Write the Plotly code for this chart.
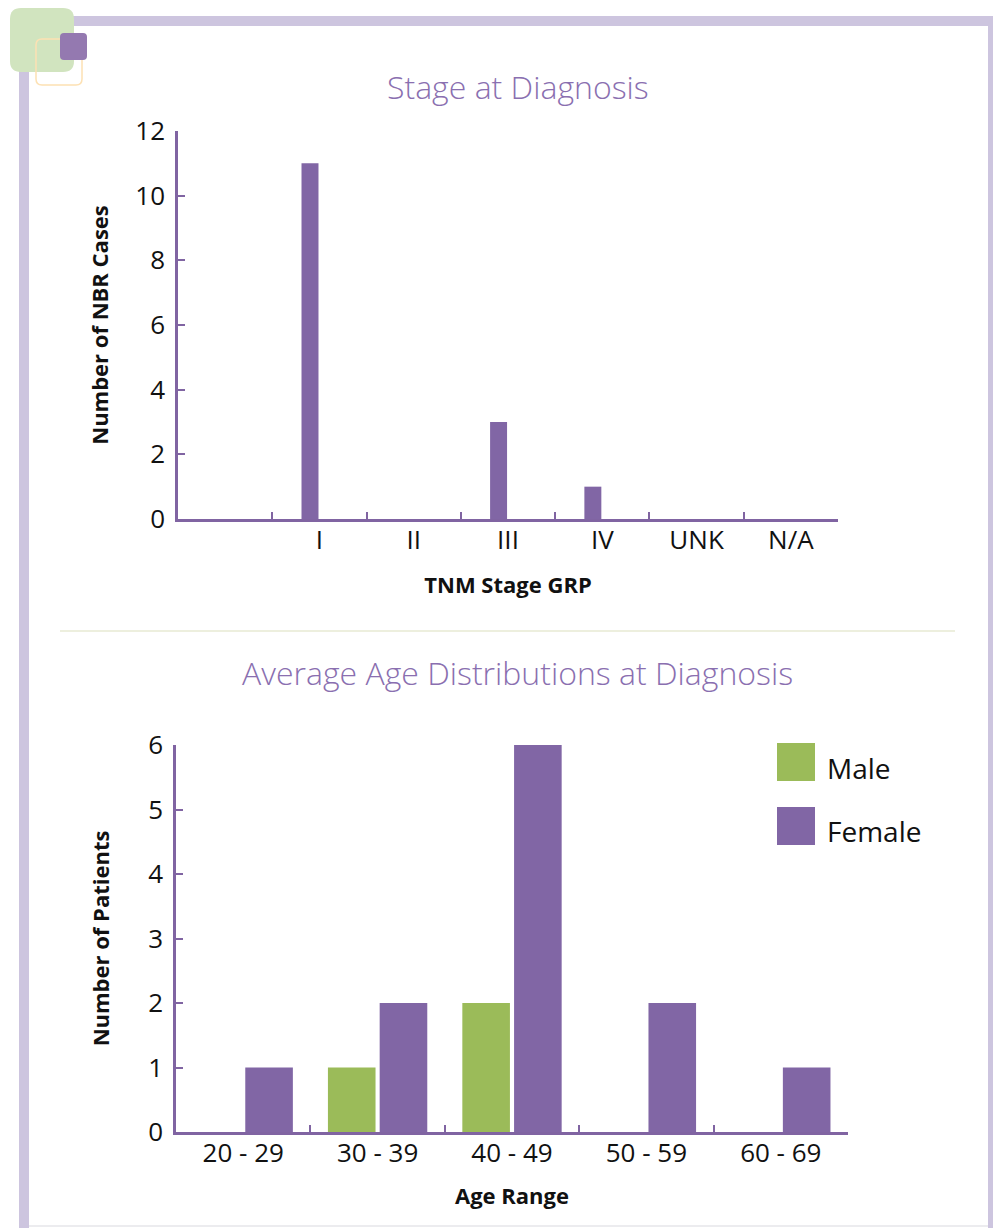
import plotly.graph_objects as go

# ---------------- data ----------------
stage_categories = [" ", "I", "II", "III", "IV", "UNK", "N/A"]
stage_counts = [0, 11, 0, 3, 1, 0, 0]

age_ranges = ["20 - 29", "30 - 39", "40 - 49", "50 - 59", "60 - 69"]
male_counts = [0, 1, 2, 0, 0]
female_counts = [1, 2, 6, 2, 1]

# ---------------- styles ----------------
W, H = 1001, 1228
OX, OY = 8, 8  # page body margin compensation
PURPLE = "#8166a5"
GREEN = "#9bbb59"
AXIS = "#8064a2"
TITLE_C = "#8a6fb0"
FRAME = "#cdc5df"
FONT = "Open Sans, Noto Sans, sans-serif"


def px(x):
    return (x - OX) / W


def py(y):
    return 1 - (y - OY) / H


def rrect(x0, y0, x1, y1, r):
    pts = [
        ("M", [(x0 + r, y0)]), ("L", [(x1 - r, y0)]), ("Q", [(x1, y0), (x1, y0 + r)]),
        ("L", [(x1, y1 - r)]), ("Q", [(x1, y1), (x1 - r, y1)]), ("L", [(x0 + r, y1)]),
        ("Q", [(x0, y1), (x0, y1 - r)]), ("L", [(x0, y0 + r)]), ("Q", [(x0, y0), (x0 + r, y0)]),
    ]
    s = ""
    for cmd, ps in pts:
        s += cmd + " " + " ".join(f"{px(a):.5f},{py(b):.5f}" for a, b in ps) + " "
    return s + "Z"


fig = go.Figure()

fig.add_trace(go.Bar(
    x=stage_categories, y=stage_counts, xaxis="x", yaxis="y",
    width=0.18, offset=-0.19, marker=dict(color=PURPLE, line=dict(width=0)),
    showlegend=False, hoverinfo="x+y"))

fig.add_trace(go.Bar(
    x=age_ranges, y=male_counts, name="Male", xaxis="x2", yaxis="y2",
    marker=dict(color=GREEN, line=dict(width=0)), showlegend=False))
fig.add_trace(go.Bar(
    x=age_ranges, y=female_counts, name="Female", xaxis="x2", yaxis="y2",
    marker=dict(color=PURPLE, line=dict(width=0)), showlegend=False))

axis_common = dict(
    showline=True, linecolor=AXIS, linewidth=2.5, ticks="inside", tickcolor=AXIS,
    tickwidth=2, ticklen=7, showgrid=False, zeroline=False, automargin=False,
    tickfont=dict(family=FONT, size=26, color="#111"),
)
title_font = dict(family=FONT, size=22, color="#111", weight="bold")

fig.update_layout(
    width=W, height=H, margin=dict(l=0, r=0, t=0, b=0, autoexpand=False),
    paper_bgcolor="white", plot_bgcolor="white",
    barmode="group", bargap=0.23, bargroupgap=0.08,
    xaxis=dict(domain=[px(178), px(838)], anchor="y", type="category",
               categoryorder="array", categoryarray=stage_categories,
               range=[-0.5, 6.5], tickson="boundaries", ticklabelstandoff=-4,
               title=dict(text="TNM Stage GRP", font=title_font, standoff=22),
               **axis_common),
    yaxis=dict(domain=[py(519), py(131)], anchor="x", range=[0, 12], dtick=2,
               ticklabelstandoff=5,
               title=dict(text="Number of NBR Cases", font=title_font, standoff=21),
               **axis_common),
    xaxis2=dict(domain=[px(176), px(848)], anchor="y2", type="category",
                categoryorder="array", categoryarray=age_ranges,
                range=[-0.5, 4.5], tickson="boundaries", ticklabelstandoff=-4,
                title=dict(text="Age Range", font=title_font, standoff=20),
                **axis_common),
    yaxis2=dict(domain=[py(1132), py(745)], anchor="x2", range=[0, 6], dtick=1,
                ticklabelstandoff=5,
                title=dict(text="Number of Patients", font=title_font, standoff=33),
                **axis_common),
)

shapes = []
# frame
shapes.append(dict(type="rect", xref="paper", yref="paper", x0=px(60), x1=px(999),
                   y0=py(26), y1=py(16), fillcolor=FRAME, line=dict(width=0), layer="above"))
shapes.append(dict(type="rect", xref="paper", yref="paper", x0=px(988), x1=px(999),
                   y0=py(1236), y1=py(16), fillcolor=FRAME, line=dict(width=0), layer="above"))
shapes.append(dict(type="rect", xref="paper", yref="paper", x0=px(19), x1=px(29),
                   y0=py(1236), y1=py(60), fillcolor=FRAME, line=dict(width=0), layer="above"))
shapes.append(dict(type="line", xref="paper", yref="paper", x0=px(29), x1=px(988),
                   y0=py(1226), y1=py(1226), line=dict(color="#e6e6ea", width=1.5), layer="above"))
# decoration
shapes.append(dict(type="path", xref="paper", yref="paper", path=rrect(10, 8, 74, 72, 11),
                   fillcolor="#d1e4bf", line=dict(width=0), layer="above"))
shapes.append(dict(type="path", xref="paper", yref="paper", path=rrect(36, 39, 82, 85, 6),
                   fillcolor="rgba(0,0,0,0)", line=dict(color="#fde1b3", width=1.5), layer="above"))
shapes.append(dict(type="path", xref="paper", yref="paper", path=rrect(60, 33, 87, 60, 4),
                   fillcolor="#9479b0", line=dict(width=0), layer="above"))
# separator
shapes.append(dict(type="line", xref="paper", yref="paper", x0=px(60), x1=px(955),
                   y0=py(631), y1=py(631), line=dict(color="#e7ead3", width=1.5)))
# legend keys
shapes.append(dict(type="rect", xref="paper", yref="paper", x0=px(777), x1=px(815),
                   y0=py(781), y1=py(743), fillcolor=GREEN, line=dict(width=0)))
shapes.append(dict(type="rect", xref="paper", yref="paper", x0=px(777), x1=px(815),
                   y0=py(845), y1=py(807), fillcolor=PURPLE, line=dict(width=0)))
fig.update_layout(shapes=shapes)

annotations = [
    dict(text="Stage at Diagnosis", x=px(518), y=py(86), xref="paper", yref="paper",
         showarrow=False, xanchor="center", yanchor="middle",
         font=dict(family=FONT, size=32, color=TITLE_C, weight=300)),
    dict(text="Average Age Distributions at Diagnosis", x=px(517), y=py(672),
         xref="paper", yref="paper", showarrow=False, xanchor="center", yanchor="middle",
         font=dict(family=FONT, size=32, color=TITLE_C, weight=300)),
    dict(text="Male", x=px(825), y=py(768), xref="paper", yref="paper", showarrow=False,
         xanchor="left", yanchor="middle", font=dict(family=FONT, size=28, color="#111")),
    dict(text="Female", x=px(825), y=py(831), xref="paper", yref="paper", showarrow=False,
         xanchor="left", yanchor="middle", font=dict(family=FONT, size=28, color="#111")),
]
fig.update_layout(annotations=annotations)

fig.write_html("out.html")
